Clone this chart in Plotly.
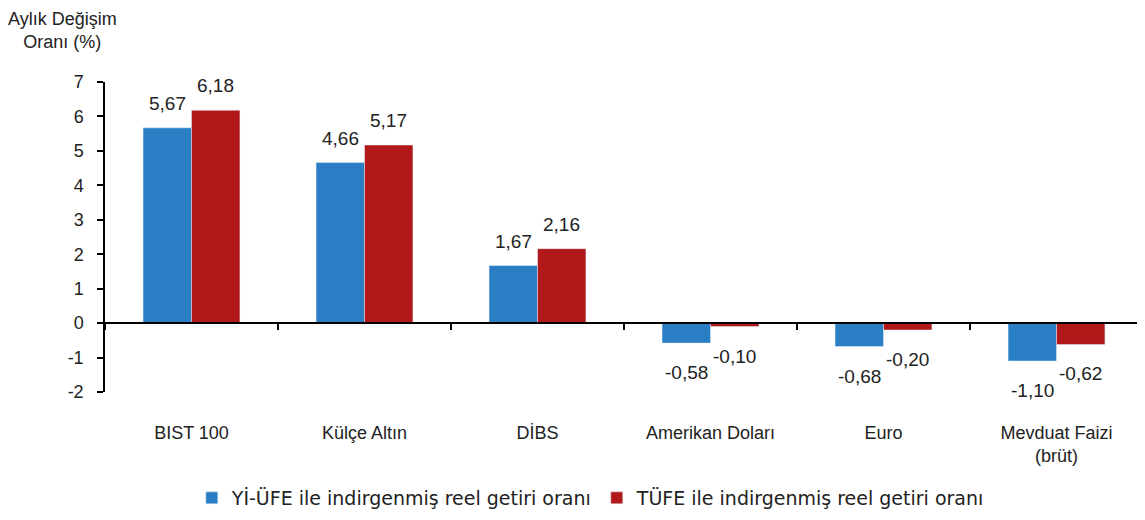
import plotly.graph_objects as go

categories = ["BIST 100", "Külçe Altın", "DİBS", "Amerikan Doları", "Euro", "Mevduat Faizi<br>(brüt)"]
yi_ufe = [5.67, 4.66, 1.67, -0.58, -0.68, -1.10]
tufe = [6.18, 5.17, 2.16, -0.10, -0.20, -0.62]
series_names = ["Yİ-ÜFE ile indirgenmiş reel getiri oranı", "TÜFE ile indirgenmiş reel getiri oranı"]
y_tickvals = [-2, -1, 0, 1, 2, 3, 4, 5, 6, 7]
y_ticktext = ["-2", "-1", "0", "1", "2", "3", "4", "5", "6", "7"]

FONT = "Arial, Liberation Sans, sans-serif"
LEGEND_FONT = "DejaVu Sans, sans-serif"
BLUE = "#2A7FC4"
RED = "#B0181A"
TXT = "#222222"
BARGAP = 0.44

def fmt(v):
    return f"{v:.2f}".replace(".", ",")

fig = go.Figure()
fig.add_trace(go.Bar(x=categories, y=yi_ufe, name=series_names[0], marker_color=BLUE))
fig.add_trace(go.Bar(x=categories, y=tufe, name=series_names[1], marker_color=RED))
# invisible helper on the label axis
fig.add_trace(go.Scatter(
    x=categories, y=yi_ufe, xaxis="x2", mode="markers",
    marker=dict(opacity=0), showlegend=False, hoverinfo="skip",
))

# value labels placed on the data scale (grouped-bar centres)
annotations = []
off = (1 - BARGAP) / 4
for i, (a, b) in enumerate(zip(yi_ufe, tufe)):
    for val, dx in ((a, -off), (b, off)):
        pos = val >= 0
        annotations.append(dict(
            x=i + dx, y=val, xref="x", yref="y", text=fmt(val), showarrow=False,
            xanchor="center", yanchor="bottom" if pos else "top",
            yshift=12 if pos else -17,
            font=dict(size=19, family=FONT, color=TXT),
        ))

annotations.append(dict(
    text="Aylık Değişim<br>Oranı (%)", xref="paper", yref="paper",
    x=-0.041, y=1 + (74 - 22) / 310, xanchor="center", yanchor="middle",
    showarrow=False, font=dict(size=18, family=FONT, color=TXT),
))

ymin, ymax = -2, 7
fig.update_layout(
    width=1137, height=512,
    margin=dict(l=97, r=2, t=74, b=128, autoexpand=False),
    paper_bgcolor="white", plot_bgcolor="white",
    barmode="group", bargap=BARGAP, bargroupgap=0,
    font=dict(family=FONT, size=18, color=TXT),
    showlegend=True,
    legend=dict(orientation="h", x=0.468, xanchor="center",
                yref="container", y=(512 - 490) / 512, yanchor="middle",
                font=dict(size=19, family=LEGEND_FONT, color=TXT), tracegroupgap=0),
    xaxis=dict(
        type="category", anchor="free", position=(0 - ymin) / (ymax - ymin),
        showline=True, linecolor="black", linewidth=1.5,
        ticks="outside", tickson="boundaries", ticklen=6, tickcolor="black", tickwidth=1.5,
        showticklabels=False, showgrid=False, zeroline=False,
        range=[-0.5, 5.5],
    ),
    xaxis2=dict(
        type="category", overlaying="x", anchor="y", side="bottom",
        showline=False, ticks="", showgrid=False, zeroline=False,
        ticklabelstandoff=28, tickfont=dict(size=18, family=FONT, color=TXT),
        range=[-0.5, 5.5],
    ),
    yaxis=dict(
        range=[ymin, ymax], tickvals=y_tickvals, ticktext=y_ticktext,
        showline=True, linecolor="black", linewidth=1.5,
        ticks="outside", ticklen=6, tickcolor="black", tickwidth=1.5,
        showgrid=False, zeroline=False,
        tickfont=dict(size=18, family=FONT, color=TXT),
        ticklabelstandoff=10,
    ),
    annotations=annotations,
)

fig.write_html("out.html")
